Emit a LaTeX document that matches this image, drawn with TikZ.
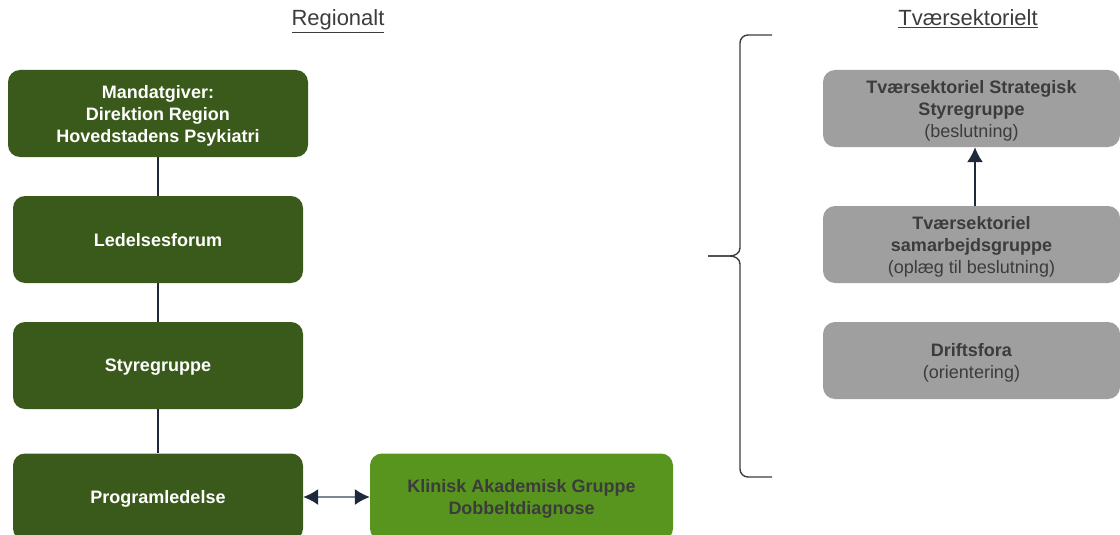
\documentclass[tikz,border=0pt]{standalone}
\usepackage{fontspec}
\setmainfont{Liberation Sans}
\usetikzlibrary{arrows.meta,positioning,calc}
\definecolor{darkgreen}{HTML}{3A5A1B}
\definecolor{lightgreen}{HTML}{58951F}
\definecolor{boxgray}{HTML}{9F9F9F}
\definecolor{navy}{HTML}{1E2A3C}
\definecolor{textgray}{HTML}{3C3C3C}
\definecolor{linegray}{HTML}{7D8796}

\begin{document}
\begin{tikzpicture}[x=1pt,y=-1pt,>={Latex[length=15pt,width=16pt]},
  every node/.style={font=\fontsize{18}{22}\selectfont,align=center,inner sep=0pt,text depth=0pt},
  title/.style={font=\fontsize{22}{26}\selectfont,text=textgray},
  regbox/.style={fill=darkgreen,text=white,font=\fontsize{18}{22}\selectfont\bfseries,
    rounded corners=12pt,minimum width=290pt,minimum height=87pt},
  kagbox/.style={regbox,fill=lightgreen,text=textgray,minimum width=303pt},
  tvbox/.style={fill=boxgray,text=textgray,rounded corners=12pt,
    minimum width=297pt,minimum height=77pt}]
\useasboundingbox (0,0) rectangle (1120,535);
\clip (0,0) rectangle (1120,535);
\node[title] (regionalt) at (338,18) {\underline{Regionalt}};
\node[title] (tvaersek) at (968,18) {\underline{Tværsektorielt}};
% regionalt
\node[regbox,minimum width=300pt] (mandat) at (158,113.5) {Mandatgiver:\\Direktion Region\\Hovedstadens Psykiatri};
\node[regbox] (ledelse) at (158,239.5) {Ledelsesforum};
\node[regbox] (styre) at (158,365.5) {Styregruppe};
\node[regbox] (program) at (158,497) {Programledelse};
\node[kagbox] (klinisk) at (521.5,497) {Klinisk Akademisk Gruppe\\Dobbeltdiagnose};
\draw[navy,line width=1.3pt] (mandat) -- (ledelse) (ledelse) -- (styre) (styre) -- (program);
\draw[linegray,line width=1.5pt,{Latex[length=15pt,width=16pt,color=navy]}-{Latex[length=15pt,width=16pt,color=navy]}]
  (program) -- (klinisk);
% tvaersektorielt
\node[tvbox] (strat) at (971.5,108.5) {\textbf{Tværsektoriel Strategisk}\\\textbf{Styregruppe}\\(beslutning)};
\node[tvbox] (samarb) at (971.5,244.5) {\textbf{Tværsektoriel}\\\textbf{samarbejdsgruppe}\\(oplæg til beslutning)};
\node[tvbox] (drift) at (971.5,360.5) {\textbf{Driftsfora}\\(orientering)};
\draw[->,navy,line width=1.5pt] ([xshift=3.5pt]samarb.north) -- ([xshift=3.5pt]strat.south);
% brace
\draw[textgray,line width=1.4pt] (772,35) -- (748,35) to[out=180,in=90] (740,43) -- (740,248)
  to[out=-90,in=0] (730,256) -- (708,256);
\draw[textgray,line width=1.4pt] (708,256) -- (730,256) to[out=0,in=90] (740,264) -- (740,469)
  to[out=-90,in=180] (748,477) -- (772,477);
\end{tikzpicture}
\end{document}
